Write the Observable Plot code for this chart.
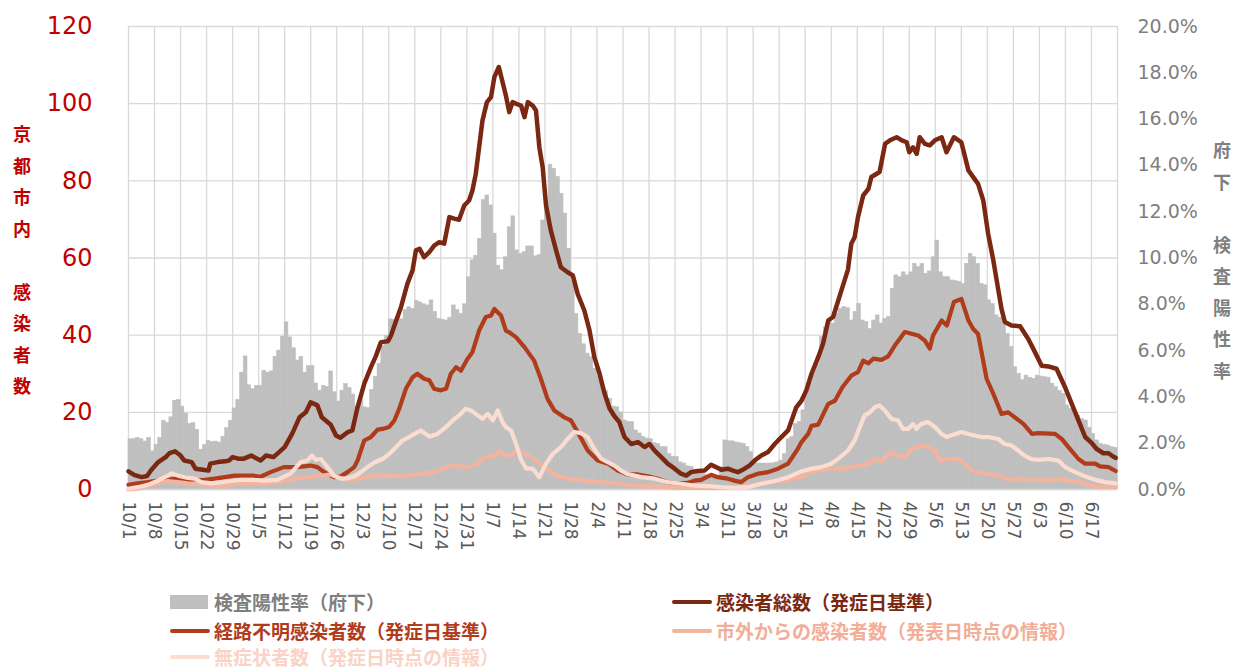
<!DOCTYPE html>
<html><head><meta charset="utf-8">
<script src="https://cdn.jsdelivr.net/npm/d3@7"></script>
<script src="https://cdn.jsdelivr.net/npm/@observablehq/plot@0.6"></script>
<style>
body{margin:0;background:#fff;width:1234px;height:669px;overflow:hidden;position:relative;font-family:"DejaVu Sans",Verdana,sans-serif;}
#chart{position:absolute;left:0;top:0;}
.vt{position:absolute;font-family:"Noto Sans CJK JP",sans-serif;font-weight:bold;font-size:18px;line-height:31.5px;text-align:center;width:26px;}
.lg{position:absolute;font-family:"Noto Sans CJK JP",sans-serif;font-weight:bold;font-size:19px;line-height:24px;white-space:nowrap;}
.sw{position:absolute;}
</style></head><body>
<div id="chart"></div>
<div class="vt" style="left:9px;top:118px;color:#C00000">京<br>都<br>市<br>内<br>&nbsp;<br>感<br>染<br>者<br>数</div>
<div class="vt" style="left:1209px;top:134px;color:#7F7F7F">府<br>下<br>&nbsp;<br>検<br>査<br>陽<br>性<br>率</div>
<div id="legend"></div>
<script>
// ---- data ----
// daily test positivity rate (Kyoto prefecture excl. city), %, from 2020-10-01
const positivityRate = [
 2.17,2.17,2.22,2.17,2.07,2.23,1.65,
 1.93,2.23,2.97,2.87,3.12,3.83,3.87,
 3.58,3.28,2.83,2.87,2.58,1.72,1.92,
 2.10,2.05,2.07,2.03,2.28,2.65,2.97,
 3.50,3.87,5.05,5.75,4.50,4.33,4.48,
 4.48,5.13,5.05,5.10,5.73,6.00,6.60,
 7.22,6.57,6.10,5.57,5.73,5.05,5.33,
 5.33,4.58,4.27,4.48,4.43,5.10,4.20,
 3.80,4.27,4.55,4.38,4.10,3.58,3.83,
 3.55,3.52,4.30,4.87,5.42,6.20,6.63,
 7.35,7.33,7.43,7.35,7.75,7.87,7.80,
 8.15,8.08,8.00,7.95,8.17,7.67,7.37,
 7.33,7.30,7.42,7.95,7.75,7.58,8.00,
 9.17,9.90,10.10,10.83,12.50,12.70,12.27,
 11.05,9.67,9.47,10.03,11.33,11.80,10.33,
 10.17,10.25,10.50,10.50,10.07,10.12,11.62,
 12.42,14.03,13.85,13.50,12.77,11.92,10.40,
 9.00,7.58,6.72,6.27,5.87,5.72,5.22,
 4.88,4.50,4.25,3.92,3.58,3.55,3.33,
 2.98,2.92,2.92,2.55,2.42,2.27,2.20,
 2.17,2.00,1.97,1.83,1.83,1.53,1.42,
 1.40,1.17,1.12,1.00,0.97,0.83,0.82,
 0.68,0.63,0.60,0.57,0.53,0.97,2.12,
 2.08,2.08,2.03,2.00,1.97,1.83,1.62,
 1.17,1.12,1.12,1.12,1.12,1.13,1.17,
 1.25,1.53,2.17,2.27,2.83,2.92,3.42,
 4.28,4.63,5.13,5.43,6.58,7.00,7.30,
 7.17,7.58,7.80,7.88,7.83,7.30,7.67,
 8.02,7.30,7.23,6.93,7.30,7.52,7.17,
 7.37,7.45,8.67,9.25,9.17,9.38,9.25,
 9.38,9.75,9.60,9.75,9.32,9.42,10.03,
 10.75,9.38,9.17,9.17,9.03,9.00,8.97,
 8.88,9.75,10.18,10.03,9.75,8.88,8.82,
 8.17,8.02,7.52,7.42,7.23,6.72,6.15,
 5.28,5.00,4.72,4.92,4.83,4.78,4.92,
 4.88,4.85,4.83,4.57,4.42,4.25,4.13,
 3.63,3.48,3.30,3.20,3.05,2.98,2.67,
 2.40,2.12,1.97,1.93,1.90,1.83,1.80
];
// [days since 10/1, persons]
const totalCases = [[0,4.7],[1.5,3.8],[3.5,3.2],[5,3.5],[6,4.9],[8,7.1],[10,8.4],[11,9.4],[12.5,9.9],[14,8.8],[15,7.5],[17,7.1],[18,5.4],[20,5.1],[21.5,4.9],[22,6.7],[24,7.1],[26,7.3],[27,7.5],[28,8.4],[29.5,8],[31,8],[33,8.8],[35.5,7.5],[37,8.8],[39,8.4],[42,11],[44,14.4],[46,18.7],[47.7,20],[49,22.6],[50.8,21.8],[52,18.7],[54.4,16.8],[55.8,14],[57,13.4],[59,14.9],[60.2,15.3],[61.6,21.3],[63.4,27.4],[65.2,31.7],[66.5,34.5],[67.9,38.2],[69.8,38.4],[70.6,39.9],[72,43.8],[73.3,47.3],[75,53.3],[76.4,56.8],[77.3,62],[78.3,62.4],[79.5,60.2],[80.9,61.5],[82.2,63.2],[83.6,64.1],[84.9,63.7],[86.3,70.6],[87.6,70.2],[88.9,69.9],[90.3,73.6],[91.6,74.9],[92.5,77.5],[93.4,81.8],[94.3,88.7],[95.2,95.6],[96.4,100.4],[97.5,101.7],[98.4,106.9],[99.6,109.5],[100.6,105.6],[101.5,102.1],[102.4,97.8],[103.3,100.4],[104.7,99.8],[105.6,99.5],[106.5,96.5],[107.4,100.4],[108.7,99.5],[109.6,98.2],[110.5,88.7],[111.4,83.5],[112.3,73.6],[113.6,67.1],[115,62],[116.3,57.6],[118.1,56.3],[119.5,55.5],[120.8,50.7],[122.6,46.4],[124,41.2],[125.3,34.3],[126.7,30],[128,25],[129.4,21],[130.7,19],[132,17.5],[133.4,13.6],[135.2,11.8],[137,12.3],[138.8,11],[140.1,11.8],[141.5,10.1],[143.3,8.4],[145,6.7],[146.9,5.4],[148.6,4.1],[150,3.6],[151.3,4.5],[153.1,4.8],[154.9,4.9],[156.7,6.4],[158,5.8],[159.4,5.1],[161.2,5.4],[162.6,4.9],[163.9,4.5],[165.7,5.4],[167,6.2],[168.4,7.5],[170.2,8.8],[172,9.7],[173.8,11.8],[175.6,13.6],[177.4,15.3],[179.6,21.3],[181,23],[182.3,25.7],[183.7,30],[185.5,34.3],[186.8,37.8],[188.2,43.8],[189.5,44.7],[192,52.4],[193.5,57],[194.4,63.7],[195.3,65.4],[196.2,70.6],[197.6,76.2],[199,77.9],[199.8,81],[202,82.3],[203.5,89.6],[204.8,90.5],[206.6,91.3],[208,90.5],[209.3,90],[210,87.4],[211,88.7],[212,87],[212.8,91.3],[214.2,89.6],[215.5,89.2],[216.9,90.5],[218.7,91.3],[220,87.4],[222,91.3],[224,90],[225.9,82.7],[228.5,79.2],[229.9,74.9],[231.2,66.3],[232.6,59.4],[234.8,46.8],[235.7,43.4],[237.5,42.5],[239.8,42.3],[242,39],[243.8,35.6],[245.6,32.1],[247.4,31.9],[249.6,31.3],[251.9,26.5],[253.7,22.2],[255.5,17.9],[257.3,13.6],[259.1,12],[260.4,10.5],[262.2,9.4],[263.6,9.4],[264.9,8.5],[265.5,8.2]];
const unknownRoute = [[0,1.2],[2.5,1.6],[5.2,1.9],[7.9,2.3],[10.6,2.5],[12.4,2.8],[15.1,2.5],[17.8,2.3],[20.5,2.5],[23.2,2.8],[25.9,3.2],[28.6,3.6],[31.2,3.6],[33.5,3.6],[35.5,3.3],[38.2,4.5],[41.8,5.8],[45.4,5.8],[49,6.2],[50.8,5.8],[52.6,4.5],[55.3,3.2],[57.1,3.4],[58.9,4.5],[60.7,5.8],[61.6,7.5],[63.4,12.7],[65.2,13.6],[67,15.5],[68.3,15.7],[70.1,16.2],[71.5,17.9],[72.8,20.9],[74.6,26.1],[76.4,29.1],[77.7,30],[79.5,28.7],[80.9,28.3],[82.2,26.1],[84,25.7],[85.4,26.1],[86.7,30],[88.1,31.7],[89.4,30.8],[91.2,33.9],[92.5,35.6],[94.3,41.2],[96.1,44.7],[97.5,45.1],[98.4,46.8],[100.2,45.1],[101.5,41.2],[102.3,40.8],[104.2,39.5],[106.5,36.9],[109.1,33.4],[110.9,28.7],[112.7,23.5],[114.5,20.5],[117.2,18.7],[119,17.9],[120.8,14.9],[123.5,10.1],[126.2,7.5],[129,6.7],[131.6,4.9],[134.3,3.9],[137,3.9],[139.7,3.4],[142.4,2.8],[145,1.9],[147.8,1.5],[150.4,1.7],[152.2,2.3],[154,2.5],[156.7,3.8],[158.5,3.2],[161.2,2.8],[163,2.3],[164.8,1.9],[166.6,3.2],[169.3,4.1],[172,4.5],[174.7,5.4],[177.4,6.7],[180,10.5],[181,12.3],[182.8,14.4],[183.7,16.5],[185.5,16.8],[188.2,22.2],[190,23],[192,26.5],[194.4,29.5],[196.2,30.4],[197.6,33.4],[199,32.7],[200.3,33.9],[202.5,33.6],[204.3,34.5],[206.1,37.3],[208.8,40.8],[212.4,39.9],[214.2,38.6],[215.5,36.5],[216.4,39.9],[218.7,43.8],[220.1,42.5],[222,48.6],[224,49.4],[225.9,43.8],[227.2,41.6],[228.5,40.3],[230.8,28.7],[232.6,24.8],[234.8,19.6],[236.6,20],[238.4,18.7],[240.7,17],[243,14.4],[244.7,14.6],[249.2,14.4],[251,13.1],[252.8,11],[255.5,7.9],[257.3,6.7],[260,6.7],[261.3,6],[263.6,5.8],[265.5,4.8]];
const outsideCity = [[0,0],[2.5,0.2],[5.2,1],[7.9,1.6],[10.6,2.2],[13.3,1.9],[16,1.6],[18.7,1.5],[21.4,1],[24,0.8],[26.7,1],[29.4,1.5],[32.9,1.7],[37.3,1.6],[41.8,2.3],[46.3,3],[50.8,3.4],[54.4,3.9],[56.2,3.2],[58.9,2.5],[61.6,2.8],[64.3,3.4],[68,3.6],[73.2,3.4],[77.7,3.9],[82.2,4.5],[86.8,6.2],[91.2,5.8],[94,6.7],[95.8,8.4],[98.4,8.6],[99.7,10.1],[101,8.8],[102.8,8.8],[104.2,10.1],[106.5,9.4],[109.1,7.9],[111.8,5.8],[114.5,3.9],[118.1,2.8],[122.6,2.3],[127.1,1.9],[131.6,1.5],[136.1,1],[140.6,0.8],[145,0.6],[149.6,0.4],[154,0.4],[158.5,0.4],[163,0.4],[167.5,1],[172,1.9],[176.5,2.3],[181,3.2],[183.7,4.5],[186.3,5.1],[189,5.4],[191.7,5.4],[194.4,5.8],[197.1,6.2],[199,6.7],[200.7,7.9],[202.5,7.3],[204.8,9.7],[206.6,8.8],[208.8,8.4],[210.7,10.5],[212,11],[213.3,11.4],[215,11],[216.9,10.1],[218.2,7.5],[220.5,7.9],[223.1,7.9],[224.9,6.7],[226.8,4.9],[229.4,4.2],[232.1,3.9],[234.8,3.4],[236.6,2.5],[239.3,2.8],[242,2.5],[244.7,2.5],[247.4,2.3],[250.1,2.8],[252.8,2.3],[255.5,1.9],[259.1,1],[261.8,0.6],[264.5,0.8],[265.5,0.6]];
const asymptomatic = [[0,0.2],[2.5,0.6],[5.2,1.2],[7.9,2.3],[10.6,3.6],[11.5,4.2],[13.3,3.6],[16,3],[17.8,2.8],[19.6,1.9],[22.3,1.6],[25,1.9],[27.7,2.2],[30.3,2.5],[33.5,2.5],[36.4,2.3],[40,2.5],[43.6,4.1],[46.3,7.1],[48.1,7.5],[49.4,8.8],[50.4,7.7],[51.7,7.9],[53.5,5.8],[55.3,3.6],[57.1,2.8],[58.9,2.9],[60.7,3.4],[62.5,4.5],[64.3,5.8],[66.1,7],[68.3,7.9],[70.1,9.2],[72,11],[73.7,12.7],[75.5,13.6],[77.3,14.6],[78.6,15.3],[80.9,13.7],[83.1,14.4],[85.4,16.2],[87.2,17.9],[88.9,19.2],[90.7,20.9],[92.1,20.5],[93.9,19.2],[95.2,18.3],[96.6,19.6],[98,17.9],[99.3,20.5],[100.6,17.5],[101.5,16.2],[102.9,15.3],[104.2,11.9],[105.6,7.6],[107,5.4],[108.7,5.4],[110.5,3.2],[112.3,6.7],[114.1,9.2],[116.3,11],[118.1,13.1],[119.9,14.9],[121.7,14.6],[123.5,13.6],[125.3,10.5],[127.1,8],[128.9,7.1],[130.7,6.2],[132.5,4.9],[134.3,4],[137.9,3.2],[141.5,2.8],[145,1.9],[148.6,1.5],[152.2,1],[155.8,0.9],[159.4,0.6],[163,0.4],[166.6,0.6],[170.2,1.5],[173.8,2.2],[177.4,3.2],[181,4.7],[183.7,5.4],[186.3,5.8],[189,6.7],[190.8,7.9],[193.5,10.1],[195.3,12.7],[196.7,16.2],[198,19.2],[199.4,20],[200.7,21.3],[202,21.8],[203.4,20.5],[205.2,18.3],[207,17.9],[208.3,15.7],[209.7,15.7],[211,17],[211.9,15.7],[213.2,17],[215,17.5],[216.9,16.2],[218.7,14.4],[220,13.6],[221.8,14.2],[224,14.9],[225.9,14.4],[227.6,14],[229.4,13.6],[231.2,13.6],[233.9,13.1],[235.7,11.8],[237.5,11.4],[239.3,10.1],[241,8.8],[242.8,7.9],[244.7,7.7],[247.4,7.9],[250.1,7.5],[251.9,5.8],[254.6,4.5],[257.3,3.4],[260,2.5],[262.7,1.9],[265.5,1.6]];
const leftTicks = [0,20,40,60,80,100,120];
const rightTicksPct = [0,2,4,6,8,10,12,14,16,18,20];
const legendItems = [
 {label:"検査陽性率（府下）", color:"#BFBFBF", text:"#7F7F7F", kind:"bar", col:0, row:0},
 {label:"感染者総数（発症日基準）", color:"#7B2812", text:"#7B2812", kind:"line", col:1, row:0},
 {label:"経路不明感染者数（発症日基準）", color:"#B03C1C", text:"#B03C1C", kind:"line", col:0, row:1},
 {label:"市外からの感染者数（発表日時点の情報）", color:"#F2B49E", text:"#F2AE97", kind:"line", col:1, row:1},
 {label:"無症状者数（発症日時点の情報）", color:"#FBDCD1", text:"#F9D3C6", kind:"line", col:0, row:2}
];
// ---- chart ----
const start = Date.UTC(2020, 9, 1);
const day = d => new Date(start + d * 864e5);
const pctToLeft = p => p * 6; // 20% <-> 120
const bars = positivityRate.map((v, i) => ({x1: day(i), x2: day(i + 1), y: pctToLeft(v)}));
const weekTicks = d3.range(0, 260, 7).map(day);
const fmt = d => `${d.getUTCMonth() + 1}/${d.getUTCDate()}`;
const lineOf = (data, color, w) => Plot.line(data, {x: d => day(d[0]), y: d => d[1], stroke: color, strokeWidth: w, strokeLinejoin: "round", strokeLinecap: "round"});

const chart = Plot.plot({
  width: 1234, height: 580,
  marginLeft: 128, marginRight: 117, marginTop: 26, marginBottom: 91,
  x: {type: "utc", domain: [day(0), day(266)]},
  y: {domain: [0, 120]},
  style: {fontFamily: "'DejaVu Sans', Verdana, sans-serif", background: "#fff", overflow: "visible"},
  marks: [
    Plot.ruleY(leftTicks, {stroke: "#D9D9D9", strokeWidth: 1.3}),
    Plot.ruleX(weekTicks.concat([day(266)]), {stroke: "#D9D9D9", strokeWidth: 1.3}),
    Plot.rectY(bars, {x1: "x1", x2: "x2", y: "y", fill: "#BFBFBF", stroke: "#BFBFBF", strokeWidth: 0.6}),
    Plot.ruleY([0], {stroke: "#D9D9D9", strokeWidth: 1.5}),
    lineOf(totalCases, "#7B2812", 4.5),
    lineOf(unknownRoute, "#B03C1C", 4.2),
    lineOf(outsideCity, "#F2B49E", 4.2),
    lineOf(asymptomatic, "#FBDCD1", 4.2),
    Plot.axisY({ticks: leftTicks, tickSize: 0, tickPadding: 36, fontSize: 24, fill: "#C00000", label: null}),
    Plot.axisY({anchor: "right", ticks: rightTicksPct.map(pctToLeft), tickFormat: d => (d / 6).toFixed(1) + "%", tickSize: 0, tickPadding: 20, fontSize: 19, fill: "#7F7F7F", label: null}),
    Plot.axisX({ticks: weekTicks, tickFormat: fmt, tickRotate: 90, tickSize: 0, tickPadding: 12, fontSize: 17, fill: "#595959", label: null})
  ]
});
document.getElementById("chart").appendChild(chart);

// ---- legend ----
const lg = document.getElementById("legend");
const colX = [170, 672], rowY = [602, 631, 657];
for (const it of legendItems) {
  const x = colX[it.col], y = rowY[it.row];
  const sw = document.createElement("div");
  sw.className = "sw";
  if (it.kind === "bar") Object.assign(sw.style, {left: x + "px", top: (y - 7) + "px", width: "38px", height: "14px", background: it.color});
  else Object.assign(sw.style, {left: x + "px", top: (y - 2) + "px", width: "40px", height: "4px", background: it.color, borderRadius: "2px"});
  lg.appendChild(sw);
  const t = document.createElement("div");
  t.className = "lg";
  t.textContent = it.label;
  Object.assign(t.style, {left: (x + 44) + "px", top: (y - 12) + "px", color: it.text});
  lg.appendChild(t);
}
</script>
</body></html>
